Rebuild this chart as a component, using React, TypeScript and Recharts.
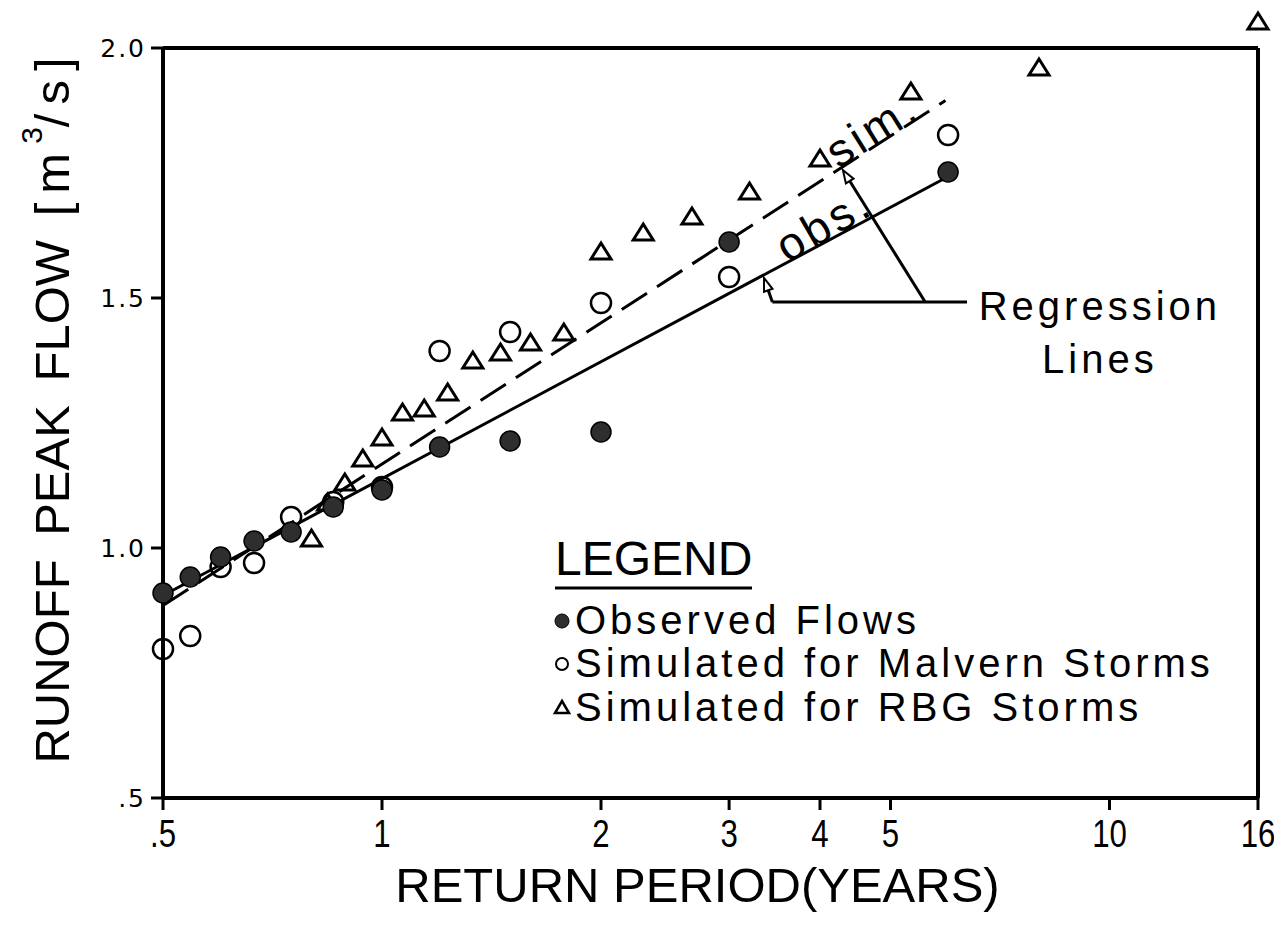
import React from 'react';
import {
  ScatterChart,
  Scatter,
  XAxis,
  YAxis,
  ReferenceLine,
  ReferenceDot,
  Legend,
  Label,
} from 'recharts';

// ---- data (return period in years, peak flow in m^3/s) ----
const returnPeriodObs = [0.5, 0.545, 0.6, 0.667, 0.75, 0.857, 1.0, 1.2, 1.5, 2.0, 3.0, 6.0];
const observedFlows = [0.91, 0.942, 0.982, 1.014, 1.032, 1.082, 1.116, 1.202, 1.214, 1.232, 1.612, 1.752];
const malvernFlows = [0.798, 0.824, 0.962, 0.97, 1.062, 1.092, 1.122, 1.394, 1.432, 1.49, 1.542, 1.826];
const returnPeriodRBG = [0.8, 0.842, 0.889, 0.941, 1.0, 1.067, 1.143, 1.231, 1.333, 1.455, 1.6, 1.778, 2.0, 2.286, 2.667, 3.2, 4.0, 5.333, 8.0, 16.0];
const rbgFlows = [1.018, 1.09, 1.13, 1.178, 1.22, 1.27, 1.278, 1.31, 1.374, 1.39, 1.41, 1.43, 1.592, 1.63, 1.662, 1.712, 1.778, 1.912, 1.96, 2.052];

const obsRegressionX = [0.5, 5.95];
const obsRegressionY = [0.905, 1.74];
const simRegressionX = [0.5, 5.95];
const simRegressionY = [0.885, 1.895];

const xTicks = [0.5, 1, 2, 3, 4, 5, 10, 16];
const xTickLabels = ['.5', '1', '2', '3', '4', '5', '10', '16'];
const yTicks = [0.5, 1.0, 1.5, 2.0];
const yTickLabels = ['.5', '1.0', '1.5', '2.0'];

const xDomain = [0.5, 16];
const yDomain = [0.5, 2.08];

// annotation anchors (data coordinates)
const simTextAt = { x: 4.72, y: 1.838 };
const obsTextAt = { x: 4.05, y: 1.648 };
const regressionTextAt = { x: 9.7, y: 1.456 };
const linesTextAt = { x: 9.7, y: 1.35 };
const simArrow = [{ x: 5.58, y: 1.492 }, { x: 4.3, y: 1.756 }];
const obsArrow = [{ x: 3.44, y: 1.492 }, { x: 3.35, y: 1.54 }];
const pointerLine = [{ x: 6.37, y: 1.492 }, { x: 3.44, y: 1.492 }];

const zip = (xs: number[], ys: number[]) => xs.map((x, i) => ({ x, y: ys[i] }));
const observedData = zip(returnPeriodObs, observedFlows);
const malvernData = zip(returnPeriodObs, malvernFlows);
const rbgData = zip(returnPeriodRBG, rbgFlows);
const obsRegData = zip(obsRegressionX, obsRegressionY);
const simRegData = zip(simRegressionX, simRegressionY);

const FONT = 'Liberation Sans, Arial, Helvetica, sans-serif';

const FilledDot = (p: any) => (
  <circle cx={p.cx} cy={p.cy} r={10} fill="#2e2e2e" stroke="#000" strokeWidth={1.5} />
);
const OpenDot = (p: any) => (
  <circle cx={p.cx} cy={p.cy} r={10} fill="none" stroke="#000" strokeWidth={2.5} />
);
const Tri = (p: any) => (
  <path
    d={`M${p.cx},${p.cy - 9} L${p.cx + 10},${p.cy + 7} L${p.cx - 10},${p.cy + 7} Z`}
    fill="none"
    stroke="#000"
    strokeWidth={3}
    strokeLinejoin="miter"
  />
);
const NoShape = () => <g />;

const XTick = (p: any) => {
  const i = xTicks.indexOf(p.payload.value);
  return (
    <text
      transform={`translate(${p.x},${p.y}) scale(0.8,1)`}
      textAnchor="middle"
      dy="0.9em"
      fontSize={39}
      fontFamily={FONT}
      fill="#000"
    >
      {i >= 0 ? xTickLabels[i] : p.payload.value}
    </text>
  );
};

const YTick = (p: any) => {
  const i = yTicks.indexOf(p.payload.value);
  return (
    <text
      x={p.x - 3}
      y={p.y}
      textAnchor="end"
      dominantBaseline="central"
      fontSize={25}
      letterSpacing={2}
      fontFamily="DejaVu Sans, sans-serif"
      fill="#000"
    >
      {i >= 0 ? yTickLabels[i] : p.payload.value}
    </text>
  );
};

const YTitle = (props: any) => {
  const vb = props.viewBox || { x: 95, y: 0, width: 60, height: 790 };
  const cx = vb.x - 51;
  const cy = vb.y + vb.height / 2 + 3;
  return (
    <text
      transform={`translate(${cx},${cy}) rotate(-90)`}
      textAnchor="middle"
      dominantBaseline="central"
      fontSize={49}
      fontFamily={FONT}
      fill="#000"
      wordSpacing={10}
    >
      RUNOFF PEAK FLOW{' '}
      <tspan letterSpacing={9}>[m</tspan>
      <tspan fontSize={30} dy={-21}>3</tspan>
      <tspan dy={21} letterSpacing={9}>/s]</tspan>
    </text>
  );
};

const XTitle = (props: any) => {
  const vb = props.viewBox || { x: 155, y: 790, width: 1095, height: 60 };
  return (
    <text
      x={vb.x + vb.width / 2 - 13}
      y={vb.y + 104}
      textAnchor="middle"
      fontSize={49}
      fontFamily={FONT}
      fill="#000"
    >
      RETURN PERIOD(YEARS)
    </text>
  );
};

const arrowShape = (withHead: boolean) => (p: any) => {
  const x1 = Number(p.x1), y1 = Number(p.y1), x2 = Number(p.x2), y2 = Number(p.y2);
  const ang = Math.atan2(y2 - y1, x2 - x1);
  const c = Math.cos(ang), s = Math.sin(ang);
  const L = 13, hw = 4.5;
  const bx = x2 - L * c, by = y2 - L * s;
  return (
    <g>
      <line x1={x1} y1={y1} x2={withHead ? bx : x2} y2={withHead ? by : y2} stroke="#000" strokeWidth={3} />
      {withHead && (
        <polygon
          points={`${x2},${y2} ${bx + hw * s},${by - hw * c} ${bx - hw * s},${by + hw * c}`}
          fill="#fff"
          stroke="#000"
          strokeWidth={2}
          strokeLinejoin="miter"
        />
      )}
    </g>
  );
};

const textShape = (txt: string, rotate: number, anchor: string, baseline: string, size: number) => (p: any) => (
  <text
    transform={`translate(${p.cx},${p.cy}) rotate(${rotate})`}
    textAnchor={anchor}
    dominantBaseline={baseline}
    fontSize={size}
    letterSpacing={4}
    fontFamily={FONT}
    fill="#000"
  >
    {txt}
  </text>
);

const LegendBox = () => (
  <svg width={720} height={220} style={{ display: 'block', overflow: 'visible' }}>
    <g fontFamily={FONT} fill="#000">
      <text x={10} y={55} fontSize={48}>LEGEND</text>
      <line x1={10} y1={68} x2={207} y2={68} stroke="#000" strokeWidth={3} />
      <circle cx={17} cy={101} r={7} fill="#2e2e2e" stroke="#000" strokeWidth={1} />
      <text x={30} y={114} fontSize={40} letterSpacing={4}>Observed Flows</text>
      <circle cx={17} cy={144} r={6} fill="none" stroke="#000" strokeWidth={2} />
      <text x={30} y={157} fontSize={40} letterSpacing={4}>Simulated for Malvern Storms</text>
      <path d="M17,181 L24,193 L10,193 Z" fill="none" stroke="#000" strokeWidth={2.5} />
      <text x={30} y={201} fontSize={40} letterSpacing={4}>Simulated for RBG Storms</text>
    </g>
  </svg>
);

export default function App() {
  return (
    <div style={{ width: 1274, height: 922, background: '#fff' }}>
      <ScatterChart width={1274} height={922} margin={{ top: 0, right: 24, bottom: 72, left: 95 }}>
        <XAxis
          type="number"
          dataKey="x"
          scale="log"
          domain={xDomain}
          ticks={xTicks}
          interval={0}
          axisLine={false}
          tickLine={{ stroke: '#000', strokeWidth: 3 }}
          tickSize={12}
          tickMargin={2}
          tick={XTick}
          height={60}
          label={<Label content={XTitle} />}
        />
        <YAxis
          type="number"
          dataKey="y"
          domain={yDomain}
          ticks={yTicks}
          interval={0}
          axisLine={false}
          tickLine={{ stroke: '#000', strokeWidth: 3 }}
          tickSize={12}
          tickMargin={2}
          tick={YTick}
          width={60}
          label={<Label content={YTitle} />}
        />

        {/* plot frame */}
        <ReferenceLine segment={[{ x: 0.5, y: 2 }, { x: 16, y: 2 }]} stroke="#000" strokeWidth={4} />
        <ReferenceLine segment={[{ x: 0.5, y: 0.5 }, { x: 16, y: 0.5 }]} stroke="#000" strokeWidth={4} />
        <ReferenceLine segment={[{ x: 0.5, y: 0.5 }, { x: 0.5, y: 2 }]} stroke="#000" strokeWidth={4} />
        <ReferenceLine segment={[{ x: 16, y: 0.5 }, { x: 16, y: 2 }]} stroke="#000" strokeWidth={4} />

        {/* regression lines */}
        <Scatter
          data={obsRegData}
          shape={NoShape}
          line={{ stroke: '#000', strokeWidth: 3 }}
          isAnimationActive={false}
        />
        <Scatter
          data={simRegData}
          shape={NoShape}
          line={{ stroke: '#000', strokeWidth: 3, strokeDasharray: '30 12' }}
          isAnimationActive={false}
        />

        {/* points */}
        <Scatter data={malvernData} shape={OpenDot} isAnimationActive={false} />
        <Scatter data={rbgData} shape={Tri} isAnimationActive={false} />
        <Scatter data={observedData} shape={FilledDot} isAnimationActive={false} />

        {/* annotations */}
        <ReferenceLine segment={pointerLine} shape={arrowShape(false)} />
        <ReferenceLine segment={simArrow} shape={arrowShape(true)} />
        <ReferenceLine segment={obsArrow} shape={arrowShape(true)} />
        <ReferenceDot x={simTextAt.x} y={simTextAt.y} r={0} shape={textShape('sim.', -32, 'middle', 'central', 46)} />
        <ReferenceDot x={obsTextAt.x} y={obsTextAt.y} r={0} shape={textShape('obs.', -30, 'middle', 'central', 46)} />
        <ReferenceDot x={regressionTextAt.x} y={regressionTextAt.y} r={0} shape={textShape('Regression', 0, 'middle', 'alphabetic', 40)} />
        <ReferenceDot x={linesTextAt.x} y={linesTextAt.y} r={0} shape={textShape('Lines', 0, 'middle', 'alphabetic', 40)} />

        <Legend
          layout="vertical"
          align="center"
          verticalAlign="middle"
          content={LegendBox}
          wrapperStyle={{ left: 537, top: 512, width: 720, height: 220 }}
        />
      </ScatterChart>
    </div>
  );
}
